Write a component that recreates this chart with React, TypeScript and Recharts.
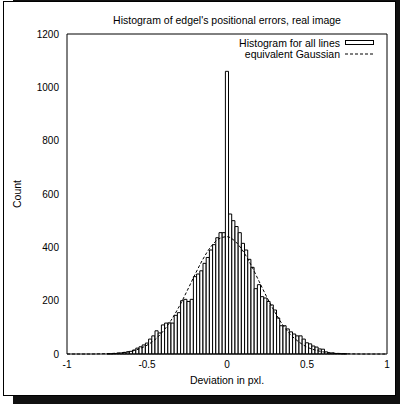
import React from 'react';
import { ComposedChart, Bar, Line, XAxis, YAxis, Legend } from 'recharts';

// Histogram bins (centre of each 0.02 px wide bin) and their counts
const binCenters = [
  -0.74, -0.72, -0.7, -0.68, -0.66, -0.64, -0.62, -0.6, -0.58, -0.56,
  -0.54, -0.52, -0.5, -0.48, -0.46, -0.44, -0.42, -0.4, -0.38, -0.36,
  -0.34, -0.32, -0.3, -0.28, -0.26, -0.24, -0.22, -0.2, -0.18, -0.16,
  -0.14, -0.12, -0.1, -0.08, -0.06, -0.04, -0.02, 0, 0.02, 0.04,
  0.06, 0.08, 0.1, 0.12, 0.14, 0.16, 0.18, 0.2, 0.22, 0.24,
  0.26, 0.28, 0.3, 0.32, 0.34, 0.36, 0.38, 0.4, 0.42, 0.44,
  0.46, 0.48, 0.5, 0.52, 0.54, 0.56, 0.58, 0.6, 0.62, 0.64,
  0.66, 0.68, 0.7, 0.72, 0.74,
];
const counts = [
  1, 1, 2, 3, 4, 6, 8, 10, 15, 22,
  27, 34, 41, 56, 68, 87, 79, 109, 116, 117,
  116, 145, 155, 200, 205, 197, 205, 290, 300, 312,
  340, 362, 390, 410, 436, 455, 455, 1060, 525, 500,
  478, 455, 415, 390, 355, 325, 245, 260, 215, 210,
  197, 184, 165, 135, 106, 106, 94, 83, 75, 68,
  68, 56, 42, 38, 30, 26, 19, 18, 8, 4,
  4, 2, 2, 1, 1,
];

// Equivalent Gaussian, sampled every 0.05 px
const gaussX = [
  -1, -0.95, -0.9, -0.85, -0.8, -0.75, -0.7, -0.65, -0.6, -0.55,
  -0.5, -0.45, -0.4, -0.35, -0.3, -0.25, -0.2, -0.15, -0.1, -0.05,
  0, 0.05, 0.1, 0.15, 0.2, 0.25, 0.3, 0.35, 0.4, 0.45,
  0.5, 0.55, 0.6, 0.65, 0.7, 0.75, 0.8, 0.85, 0.9, 0.95, 1,
];
const gaussY = [
  0, 0, 0, 0, 0.5, 1.2, 2.6, 5.2, 10, 19,
  33, 54, 85, 126, 177, 236, 298, 356, 403, 432,
  440, 423, 386, 334, 273, 212, 156, 108, 71, 45,
  26, 15, 8, 4, 2, 0.8, 0.3, 0, 0, 0, 0,
];

const xTicks = [-1, -0.5, 0, 0.5, 1];
const yTicks = [0, 200, 400, 600, 800, 1000, 1200];

const histData = binCenters.map((x, i) => ({ x, count: counts[i] }));
const gaussData = gaussX.map((x, i) => ({ x, g: gaussY[i] }));

const FONT = '"Liberation Sans", Arial, Helvetica, sans-serif';

const renderLegend = (props: any) => {
  const items = [...(props.payload ?? [])].sort((a: any, b: any) =>
    a.type === 'rect' ? -1 : b.type === 'rect' ? 1 : 0
  );
  return (
    <div style={{ fontFamily: FONT, fontSize: 10.5, color: '#000' }}>
      {items.map((entry: any) => (
        <div
          key={String(entry.value)}
          style={{ display: 'flex', justifyContent: 'flex-end', alignItems: 'center', height: 10.5, lineHeight: '10.5px' }}
        >
          <span>{entry.value}</span>
          <svg width={29} height={8} style={{ marginLeft: 5, display: 'block' }}>
            {entry.type === 'rect' ? (
              <rect x={0.5} y={1.5} width={28} height={4} fill="#fff" stroke="#000" strokeWidth={1} />
            ) : (
              <line x1={0} y1={4} x2={29} y2={4} stroke="#000" strokeWidth={1} strokeDasharray="3 2" />
            )}
          </svg>
        </div>
      ))}
    </div>
  );
};

export default function App() {
  return (
    <div
      style={{
        position: 'absolute', left: 0, top: 0, width: 400, height: 404,
        background: '#fff', overflow: 'hidden', fontFamily: FONT,
      }}
    >
      {/* drop shadow and page frame */}
      <div style={{ position: 'absolute', left: 13, top: 0, width: 387, height: 404, background: '#111' }} />
      <div
        style={{
          position: 'absolute', left: 3, top: 1, width: 393, height: 395,
          border: '1px solid #000', background: '#fff', boxSizing: 'border-box',
        }}
      />
      <div
        style={{
          position: 'absolute', left: 67, top: 14, width: 320, textAlign: 'center',
          fontSize: 10.5, lineHeight: '12px', color: '#000',
        }}
      >
        Histogram of edgel's positional errors, real image
      </div>
      <div style={{ position: 'absolute', left: 0, top: 0 }}>
        <ComposedChart
          width={400}
          height={404}
          data={histData}
          margin={{ top: 34, right: 13, bottom: 20, left: 0 }}
          barCategoryGap={0}
          barGap={0}
        >
          <XAxis
            xAxisId="main"
            dataKey="x"
            type="number"
            domain={[-1, 1]}
            ticks={xTicks}
            interval={0}
            height={30}
            tickLine={false}
            tickSize={0}
            tickMargin={7}
            axisLine={{ stroke: '#000' }}
            tick={{ fontSize: 10, fill: '#000', fontFamily: FONT }}
            label={{ value: 'Deviation in pxl.', position: 'insideBottom', offset: 0, fontSize: 10.5, fill: '#000', fontFamily: FONT }}
          />
          <XAxis
            xAxisId="tickB"
            type="number"
            domain={[-1, 1]}
            allowDataOverflow
            ticks={xTicks}
            interval={0}
            orientation="bottom"
            mirror
            tick={false}
            tickSize={6}
            axisLine={false}
            tickLine={{ stroke: '#000' }}
          />
          <XAxis
            xAxisId="tickT"
            type="number"
            domain={[-1, 1]}
            allowDataOverflow
            ticks={xTicks}
            interval={0}
            orientation="top"
            mirror
            tick={false}
            tickSize={6}
            axisLine={{ stroke: '#000' }}
            tickLine={{ stroke: '#000' }}
          />
          <YAxis
            yAxisId="main"
            type="number"
            domain={[0, 1200]}
            ticks={yTicks}
            interval={0}
            width={67}
            tickLine={false}
            tickSize={0}
            tickMargin={8}
            axisLine={{ stroke: '#000' }}
            tick={{ fontSize: 10, fill: '#000', fontFamily: FONT }}
            label={{ value: 'Count', angle: -90, position: 'center', dx: -16, fontSize: 10.5, fill: '#000', fontFamily: FONT }}
          />
          <YAxis
            yAxisId="tickL"
            type="number"
            domain={[0, 1200]}
            allowDataOverflow
            ticks={yTicks}
            interval={0}
            orientation="left"
            mirror
            tick={false}
            tickSize={6}
            axisLine={false}
            tickLine={{ stroke: '#000' }}
          />
          <YAxis
            yAxisId="tickR"
            type="number"
            domain={[0, 1200]}
            allowDataOverflow
            ticks={yTicks}
            interval={0}
            orientation="right"
            mirror
            tick={false}
            tickSize={6}
            axisLine={{ stroke: '#000' }}
            tickLine={{ stroke: '#000' }}
          />
          <XAxis xAxisId="g" dataKey="x" type="number" domain={[-1, 1]} hide height={0} />
          <Legend
            verticalAlign="middle"
            align="center"
            layout="horizontal"
            wrapperStyle={{ top: 38, right: 26, left: 'auto', bottom: 'auto', width: 'auto' }}
            content={renderLegend}
          />
          <Bar
            xAxisId="main"
            yAxisId="main"
            dataKey="count"
            name="Histogram for all lines"
            barSize={3.1}
            fill="#fff"
            stroke="#000"
            strokeWidth={1}
            legendType="rect"
            isAnimationActive={false}
          />
          <Line
            xAxisId="g"
            yAxisId="main"
            data={gaussData}
            dataKey="g"
            name="equivalent Gaussian"
            type="monotone"
            dot={false}
            stroke="#000"
            strokeWidth={1}
            strokeDasharray="3 2"
            legendType="line"
            isAnimationActive={false}
          />
        </ComposedChart>
      </div>
    </div>
  );
}
